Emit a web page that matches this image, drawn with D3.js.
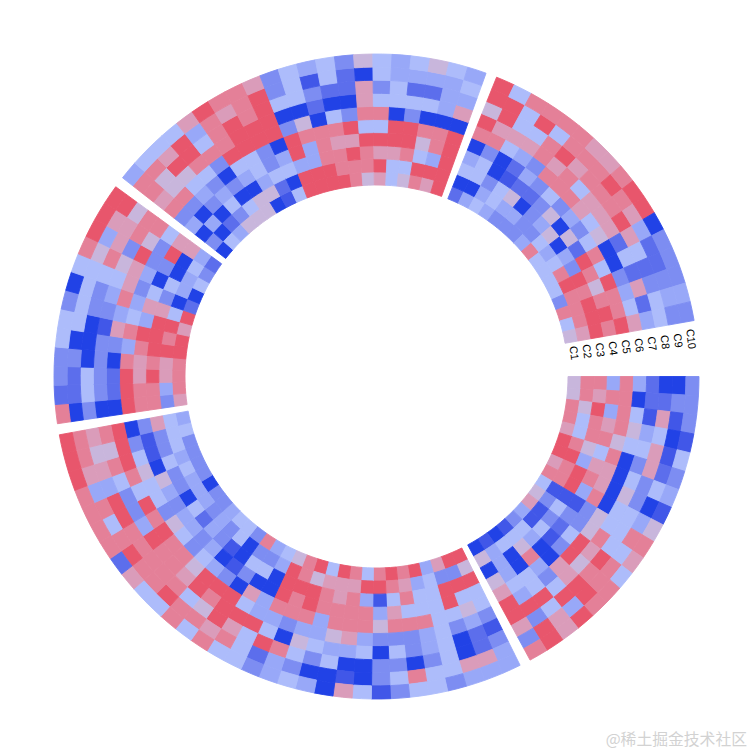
<!DOCTYPE html>
<html>
<head>
<meta charset="utf-8">
<script src="https://cdn.jsdelivr.net/npm/d3@7"></script>
<style>
body { margin: 0; background: #fff; }
</style>
</head>
<body>
<script>
var tracks = ['C1', 'C2', 'C3', 'C4', 'C5', 'C6', 'C7', 'C8', 'C9', 'C10'];

// one row per column of the sector, values C1..C10 (0 = deepest blue, 9 = red)
var sectorA = [
	[6,8,8,4,8,4,2,0,0,3],
	[6,8,7,8,8,0,2,2,3,3],
	[8,6,9,4,8,5,1,7,1,3],
	[8,5,8,7,8,6,4,5,0,1],
	[7,5,8,8,6,5,5,7,1,5],
	[9,8,6,5,8,0,3,7,2,3],
	[9,9,4,7,7,0,5,3,5,4],
	[7,8,9,8,7,0,6,3,0,1],
	[8,8,9,4,8,0,5,5,4,6],
	[5,1,1,1,3,6,5,5,8,8],
	[6,3,5,3,3,6,8,5,5,7],
	[7,1,3,2,5,9,7,9,8,5],
	[4,1,5,1,3,9,6,8,8,8],
	[3,5,4,0,0,7,7,9,9,8],
	[1,5,6,8,4,3,5,9,4,9],
	[0,5,0,0,5,5,9,5,7,7],
	[1,4,4,4,5,4,9,3,9,9],
	[0,6,0,6,7,9,9,7,3,8]
];
var sectorB = [
	[9,6,9,5,5,3,1,3,4,4],
	[9,3,9,5,6,4,2,2,7,4],
	[7,3,9,9,5,3,0,0,7,4],
	[4,5,5,5,5,5,5,5,5,3],
	[9,4,5,5,8,4,4,3,5,5],
	[8,7,8,5,8,3,3,0,8,5],
	[9,8,5,7,8,3,5,3,5,3],
	[8,9,1,4,6,3,0,3,3,1],
	[5,9,4,8,8,4,5,0,0,5],
	[8,7,8,8,8,7,4,0,1,7],
	[9,7,7,8,8,6,4,5,0,0],
	[5,7,8,8,4,4,5,3,0,4],
	[9,6,9,9,8,4,6,5,3,5],
	[8,8,9,8,8,3,0,8,4,4],
	[6,9,9,9,8,4,5,9,2,3],
	[5,4,0,0,4,4,9,5,5,5],
	[4,3,5,0,7,5,9,7,8,5],
	[8,3,5,3,0,9,9,9,7,8],
	[3,0,0,1,3,9,8,6,8,5],
	[5,5,1,0,4,9,9,5,8,8],
	[5,3,3,4,5,6,7,8,9,5],
	[4,4,4,3,3,8,8,8,8,5],
	[3,3,2,4,5,8,8,8,8,7],
	[3,4,5,4,6,9,9,8,9,2],
	[0,4,0,3,3,8,4,8,8,8],
	[3,4,3,4,5,9,3,9,5,8],
	[3,5,3,6,5,5,3,9,8,8],
	[3,4,5,0,6,8,5,4,4,8],
	[3,5,3,1,5,9,8,7,7,9],
	[5,5,3,1,3,9,6,6,8,9],
	[4,5,7,3,0,9,8,7,8,9]
];
var sectorC = [
	[7,3,8,8,9,0,0,3,0,8],
	[8,4,8,8,9,2,3,5,2,2],
	[8,7,9,7,9,2,3,5,2,3],
	[8,7,8,7,8,0,3,0,3,3],
	[9,9,9,8,4,3,3,0,0,5],
	[9,8,9,9,8,7,1,0,5,5],
	[7,9,9,4,5,4,3,3,5,3],
	[9,5,7,7,4,8,4,3,5,0],
	[2,0,3,5,3,7,5,5,5,5],
	[0,4,5,0,4,7,6,8,6,8],
	[5,4,0,3,3,9,3,7,4,9],
	[3,5,0,9,3,6,8,7,7,9],
	[2,4,7,7,5,8,8,6,9,9]
];
var sectorD = [
	[0,3,0,4,3,8,7,8,8,4],
	[5,0,4,0,3,8,6,6,8,5],
	[4,2,0,3,4,5,6,9,7,5],
	[6,3,5,4,3,5,8,9,9,5],
	[6,5,0,3,0,3,8,5,4,7],
	[6,6,0,4,5,9,8,8,8,9],
	[0,6,4,5,5,9,9,9,7,8],
	[1,2,5,3,3,9,9,8,8,8],
	[5,0,5,4,0,9,9,9,9,7],
	[9,9,4,9,9,3,0,5,3,3],
	[9,9,4,4,8,6,0,5,5,5],
	[9,9,8,8,8,0,2,3,1,4],
	[9,8,8,7,8,5,0,2,5,5],
	[8,8,9,7,9,3,0,2,2,3],
	[6,8,8,9,5,8,7,7,0,6],
	[7,9,7,9,5,8,5,3,5,5],
	[5,5,7,9,9,0,5,5,4,4],
	[6,5,8,9,9,3,5,2,4,5],
	[8,9,5,6,8,0,5,2,4,6],
	[7,9,4,8,8,0,4,4,4,5],
	[9,9,9,9,9,0,7,4,5,4]
];
var sectorE = [
	[2,0,5,4,0,8,9,6,9,9],
	[4,0,5,5,3,8,7,9,9,5],
	[5,4,3,0,0,5,7,5,5,8],
	[4,5,5,1,2,4,7,5,9,8],
	[3,4,6,2,4,3,8,8,5,8],
	[3,4,0,2,3,8,7,9,8,8],
	[3,3,3,3,5,8,8,7,8,7],
	[4,3,4,6,3,8,5,8,8,7],
	[8,5,6,0,4,7,7,8,9,8],
	[5,4,0,6,3,5,7,8,8,9],
	[5,5,4,2,5,6,7,9,7,9],
	[5,8,3,9,8,0,2,7,4,0],
	[5,9,9,8,5,0,5,5,2,3],
	[3,8,8,6,9,3,2,2,2,3],
	[8,8,9,8,8,4,7,3,3,3],
	[5,8,9,9,8,5,2,5,4,4],
	[6,7,9,8,9,7,4,5,3,3]
];
var sectors = [sectorA, sectorB, sectorC, sectorD, sectorE];
var cellDeg = 3.42;
var gapDeg = 2;

var w = window.innerWidth;
var h = window.innerHeight;
var cx = 376.5;
var cy = 376.5;

var scaleR = d3.scaleBand()
	.domain(tracks)
	.range([191.5, 322.5]);

var scaleColor = d3.scaleLinear()
	.domain([0, 1, 2, 3, 4, 5, 6, 7, 8, 9])
	.range(['#2142e6', '#4157e8', '#5c6eec', '#7d8df2', '#98a8f8', '#adbcfb', '#c8b6dc', '#da9cba', '#e48098', '#e8566c']);

var svg = d3.select('body').append('svg')
	.attr('width', w)
	.attr('height', h);

var g = svg.append('g')
	.attr('transform', 'translate(' + cx + ',' + cy + ')');

var arc = d3.arc();
var toRad = (deg) => (deg + 90) * Math.PI / 180; // degrees clockwise from east

var start = 0;
sectors.forEach((rows) => {
	var scaleA = d3.scaleLinear()
		.domain([0, rows.length])
		.range([start, start + rows.length * cellDeg]);

	rows.forEach((row, i) => {
		row.forEach((v, j) => {
			var color = scaleColor(v);
			g.append('path')
				.attr('d', arc({
					innerRadius: scaleR(tracks[j]),
					outerRadius: scaleR(tracks[j]) + scaleR.bandwidth(),
					startAngle: toRad(scaleA(i)),
					endAngle: toRad(scaleA(i + 1))
				}))
				.attr('fill', color)
				.attr('stroke', color)
				.attr('stroke-width', 0.9);
		});
	});
	start += rows.length * cellDeg + gapDeg;
});

// track names sit just past the end of the last sector
tracks.forEach((t) => {
	var r = scaleR(t) + scaleR.bandwidth() / 2;
	g.append('text')
		.attr('transform', 'rotate(353.2) translate(' + r + ',0) rotate(90)')
		.attr('text-anchor', 'middle')
		.attr('dominant-baseline', 'middle')
		.attr('font-family', 'Liberation Sans, sans-serif')
		.attr('font-size', 11)
		.attr('fill', '#000')
		.text(t);
});

svg.append('text')
	.attr('x', 747)
	.attr('y', 745)
	.attr('text-anchor', 'end')
	.attr('font-family', 'Noto Sans CJK SC')
	.attr('font-size', 15.8)
	.attr('fill', '#d2d2d2')
	.text('@稀土掘金技术社区');
</script>
</body>
</html>
